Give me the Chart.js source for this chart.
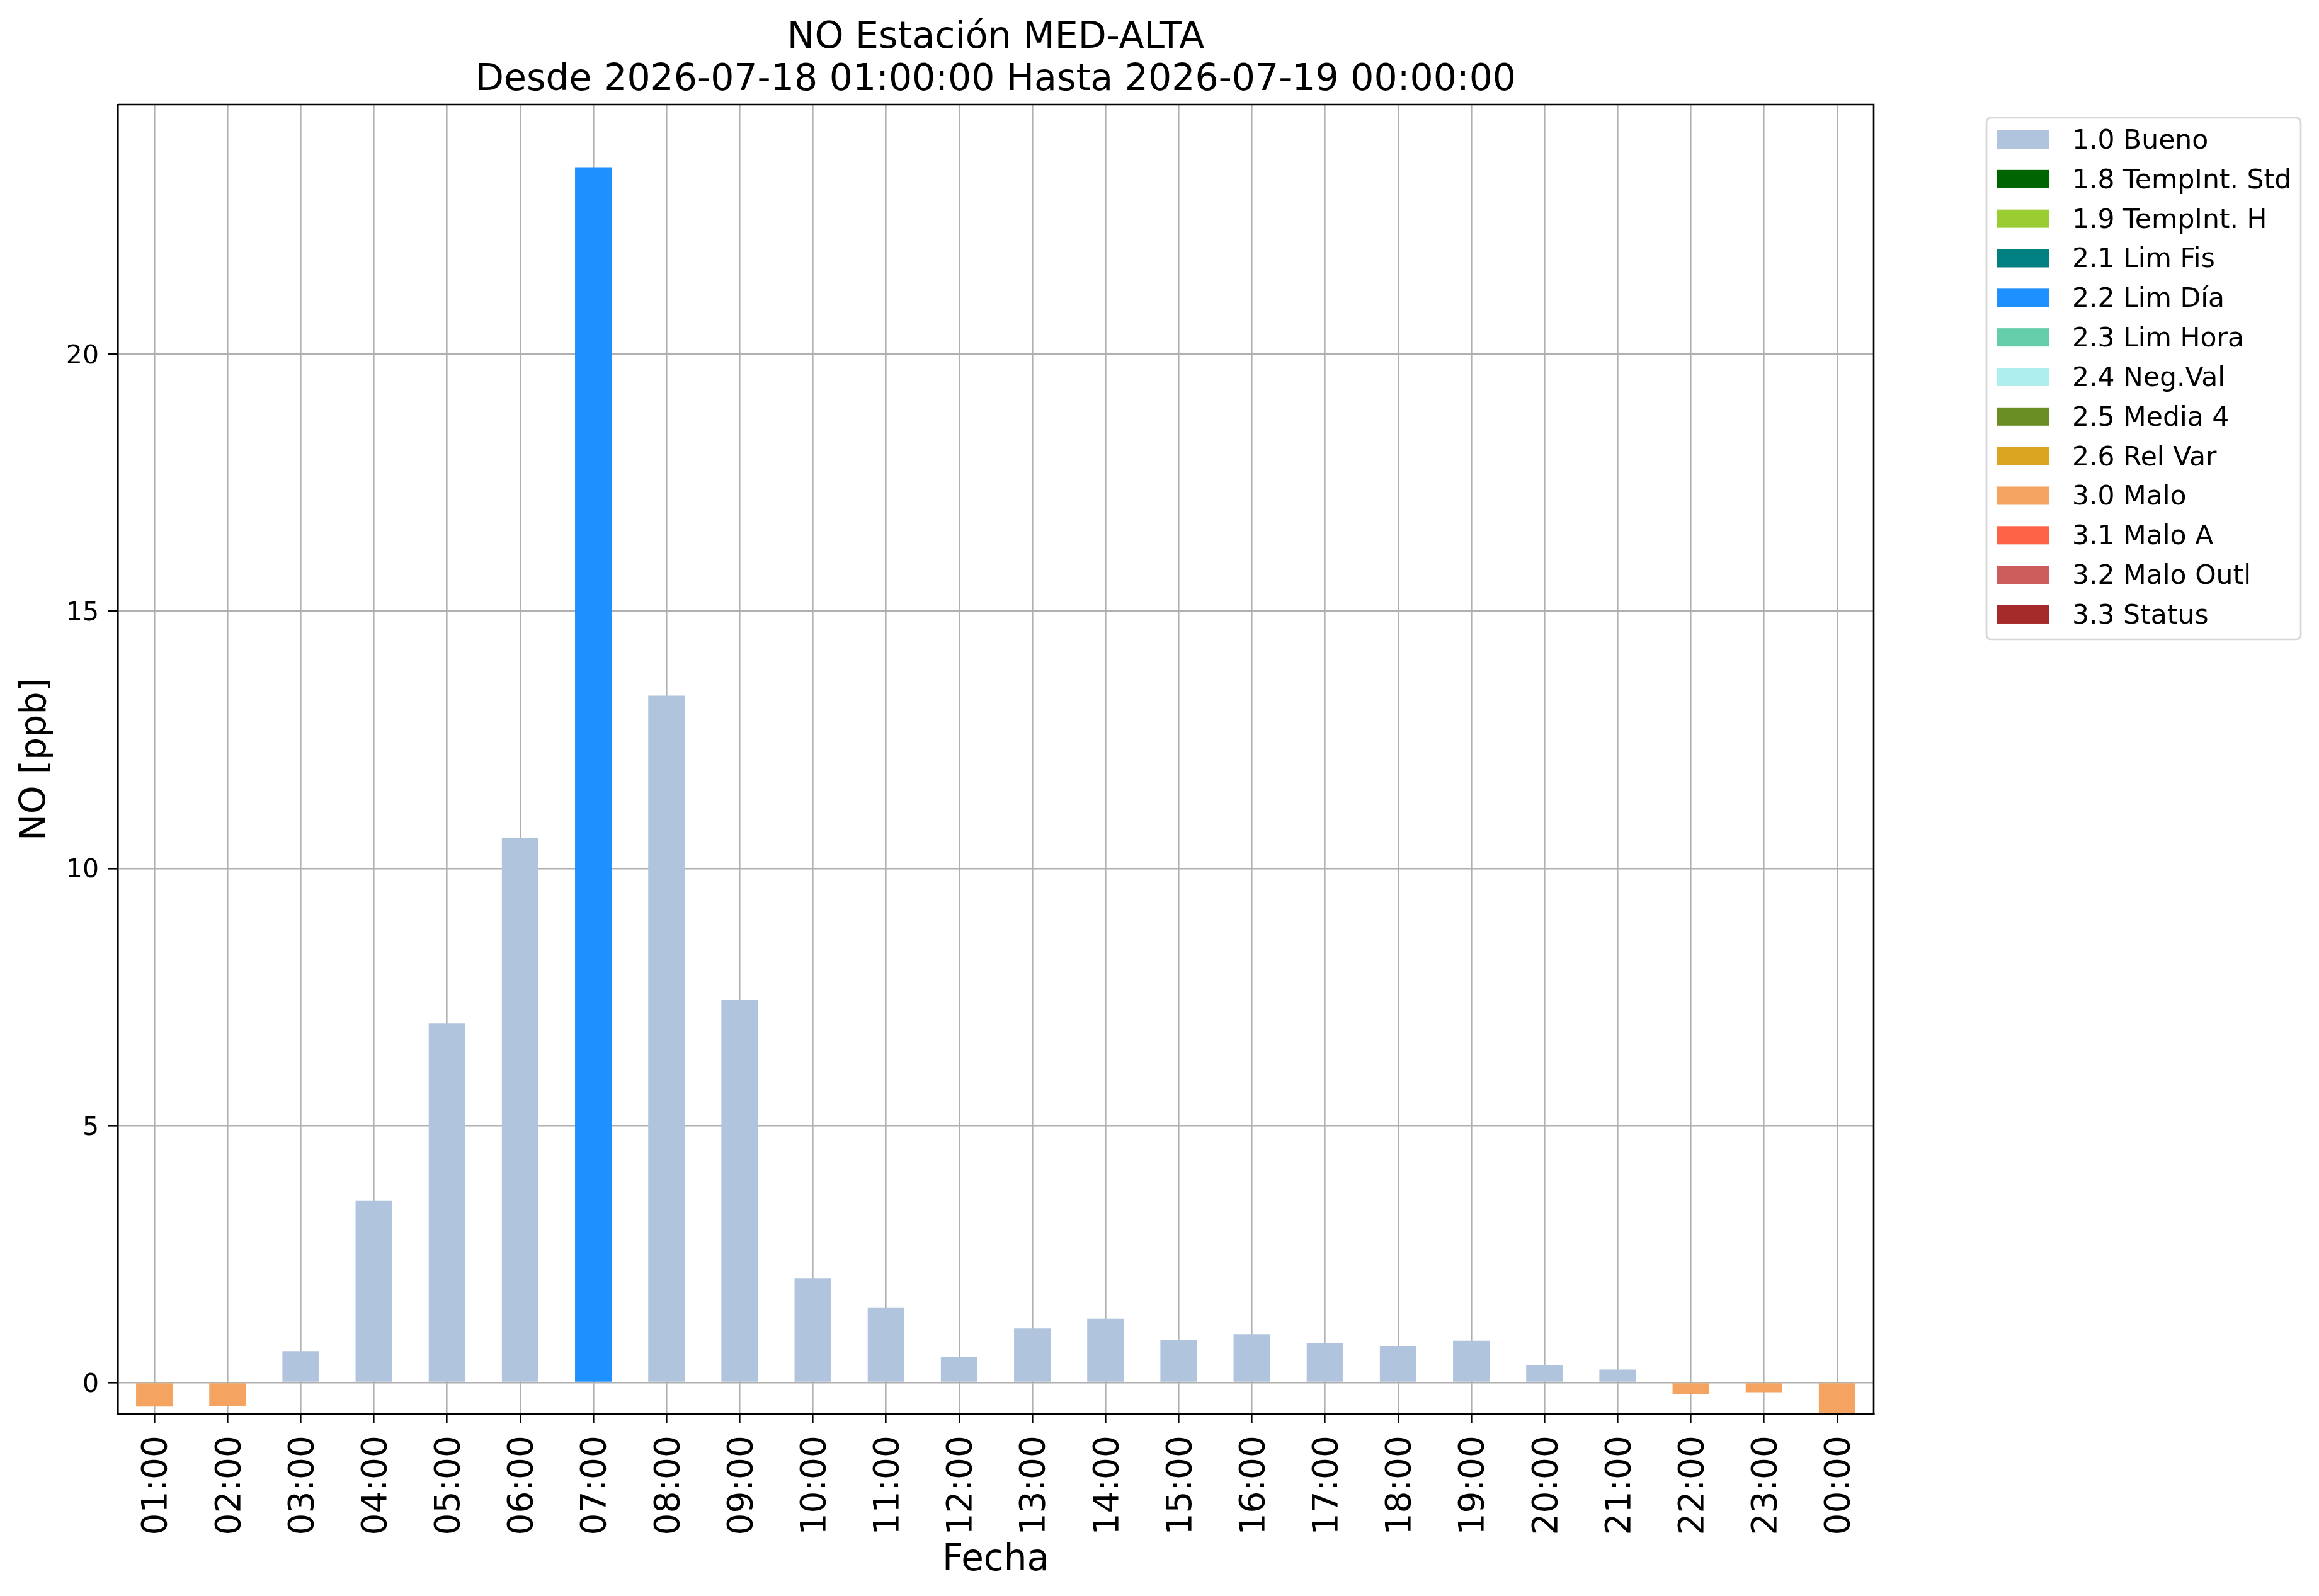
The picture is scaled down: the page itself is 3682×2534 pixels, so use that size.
<!DOCTYPE html>
<html>
<head>
<meta charset="utf-8">
<script src="https://cdn.jsdelivr.net/npm/chart.js@4"></script>
<style>
html, body { margin: 0; padding: 0; background: #ffffff; }
canvas { display: block; }
</style>
</head>
<body>
<canvas id="c" width="3682" height="2534" style="width:3682px;height:2534px"></canvas>
<script>
// ---- data ----
const hours = ["01:00","02:00","03:00","04:00","05:00","06:00","07:00","08:00","09:00","10:00","11:00","12:00",
               "13:00","14:00","15:00","16:00","17:00","18:00","19:00","20:00","21:00","22:00","23:00","00:00"];
const noValues = [-0.47, -0.46, 0.61, 3.53, 6.98, 10.59, 23.64, 13.36, 7.44, 2.03, 1.46, 0.49,
                  1.05, 1.24, 0.82, 0.94, 0.76, 0.71, 0.81, 0.33, 0.25, -0.22, -0.19, -0.60];
const hourFlags = ["3.0","3.0","1.0","1.0","1.0","1.0","2.2","1.0","1.0","1.0","1.0","1.0",
                   "1.0","1.0","1.0","1.0","1.0","1.0","1.0","1.0","1.0","3.0","3.0","3.0"];
const flagCodes = ["1.0","1.8","1.9","2.1","2.2","2.3","2.4","2.5","2.6","3.0","3.1","3.2","3.3"];
const flagLabels = ["1.0 Bueno","1.8 TempInt. Std","1.9 TempInt. H","2.1 Lim Fis","2.2 Lim Día","2.3 Lim Hora",
                    "2.4 Neg.Val","2.5 Media 4","2.6 Rel Var","3.0 Malo","3.1 Malo A","3.2 Malo Outl","3.3 Status"];
const flagColors = ["#B0C4DE","#006400","#9ACD32","#008080","#1E90FF","#66CDAA",
                    "#AFEEEE","#6B8E23","#DAA520","#F4A460","#FF6347","#CD5C5C","#A52A2A"];
const yTicks = [0, 5, 10, 15, 20];
const yMin = -0.613;
const yMax = 24.86;
const titleLines = ["NO Estación MED-ALTA", "Desde 2026-07-18 01:00:00 Hasta 2026-07-19 00:00:00"];

// ---- datasets built from the arrays ----
const datasets = flagCodes.map((code, k) => ({
  label: flagLabels[k],
  backgroundColor: flagColors[k],
  borderWidth: 0,
  data: noValues.map((v, i) => hourFlags[i] === code ? v : null),
  barPercentage: 0.5,
  categoryPercentage: 1.0
}));

const FONT = "'DejaVu Sans', 'Liberation Sans', sans-serif";
Chart.defaults.font.family = FONT;
Chart.defaults.color = "#000000";

const frameAndLegend = {
  id: 'frameAndLegend',
  afterDraw(chart) {
    const ctx = chart.ctx;
    const a = chart.chartArea;
    ctx.save();
    // axes frame (top and right spines)
    ctx.strokeStyle = '#000000';
    ctx.lineWidth = 2.6;
    ctx.beginPath();
    ctx.moveTo(a.left, a.top);
    ctx.lineTo(a.right, a.top);
    ctx.lineTo(a.right, a.bottom);
    ctx.stroke();

    // legend box
    const bx = 3154, by = 187, bw = 499, bh = 828, r = 7;
    ctx.beginPath();
    ctx.moveTo(bx + r, by);
    ctx.lineTo(bx + bw - r, by);
    ctx.arcTo(bx + bw, by, bx + bw, by + r, r);
    ctx.lineTo(bx + bw, by + bh - r);
    ctx.arcTo(bx + bw, by + bh, bx + bw - r, by + bh, r);
    ctx.lineTo(bx + r, by + bh);
    ctx.arcTo(bx, by + bh, bx, by + bh - r, r);
    ctx.lineTo(bx, by + r);
    ctx.arcTo(bx, by, bx + r, by, r);
    ctx.closePath();
    ctx.fillStyle = 'rgba(255,255,255,0.8)';
    ctx.fill();
    ctx.strokeStyle = '#d6d6d6';
    ctx.lineWidth = 2.7;
    ctx.stroke();

    ctx.font = "42.5px " + FONT;
    ctx.textAlign = 'left';
    ctx.textBaseline = 'alphabetic';
    chart.data.datasets.forEach((ds, i) => {
      const y0 = 207 + i * 62.83;
      ctx.fillStyle = ds.backgroundColor;
      ctx.fillRect(3171, y0, 83, 29);
      ctx.fillStyle = '#000000';
      ctx.fillText(ds.label, 3290, y0 + 29);
    });
    ctx.restore();
  }
};

new Chart(document.getElementById('c'), {
  type: 'bar',
  data: { labels: hours, datasets: datasets },
  options: {
    responsive: false,
    devicePixelRatio: 1,
    animation: false,
    layout: { padding: { left: 0, right: 707, top: 0, bottom: 0 } },
    plugins: {
      legend: { display: false },
      tooltip: { enabled: false },
      title: {
        display: true,
        text: titleLines,
        fullSize: false,
        color: '#000000',
        font: { family: FONT, size: 58.5, weight: 'normal', lineHeight: 67/58.5 },
        padding: { top: 27, bottom: 5 }
      }
    },
    scales: {
      x: {
        stacked: true,
        offset: true,
        z: 1,
        grid: {
          display: true,
          offset: false,
          color: '#b0b0b0',
          lineWidth: 2.6,
          drawTicks: true,
          tickLength: 15,
          tickColor: '#000000',
          tickWidth: 2.6
        },
        border: { display: true, color: '#000000', width: 2.6 },
        ticks: {
          autoSkip: false,
          minRotation: 90,
          maxRotation: 90,
          padding: 19,
          labelOffset: 5,
          color: '#000000',
          font: { family: FONT, size: 55 }
        },
        title: {
          display: true,
          text: 'Fecha',
          color: '#000000',
          font: { family: FONT, size: 58, lineHeight: 1.2 },
          padding: { top: 0, bottom: 21.5 }
        },
        afterFit(scale) { scale.height = 289; }
      },
      y: {
        stacked: true,
        min: yMin,
        max: yMax,
        z: 1,
        afterBuildTicks(scale) { scale.ticks = yTicks.map(v => ({ value: v })); },
        grid: {
          color: '#b0b0b0',
          lineWidth: 2.6,
          drawTicks: true,
          tickLength: 15,
          tickColor: '#000000',
          tickWidth: 2.6
        },
        border: { display: true, color: '#000000', width: 2.6 },
        ticks: {
          padding: 15,
          labelOffset: 4,
          color: '#000000',
          font: { family: FONT, size: 41 }
        },
        title: {
          display: true,
          text: 'NO [ppb]',
          color: '#000000',
          font: { family: FONT, size: 57, lineHeight: 1.2 },
          padding: { top: 23, bottom: 0 }
        },
        afterFit(scale) { scale.width = 187; }
      }
    }
  },
  plugins: [frameAndLegend]
});
</script>
</body>
</html>
